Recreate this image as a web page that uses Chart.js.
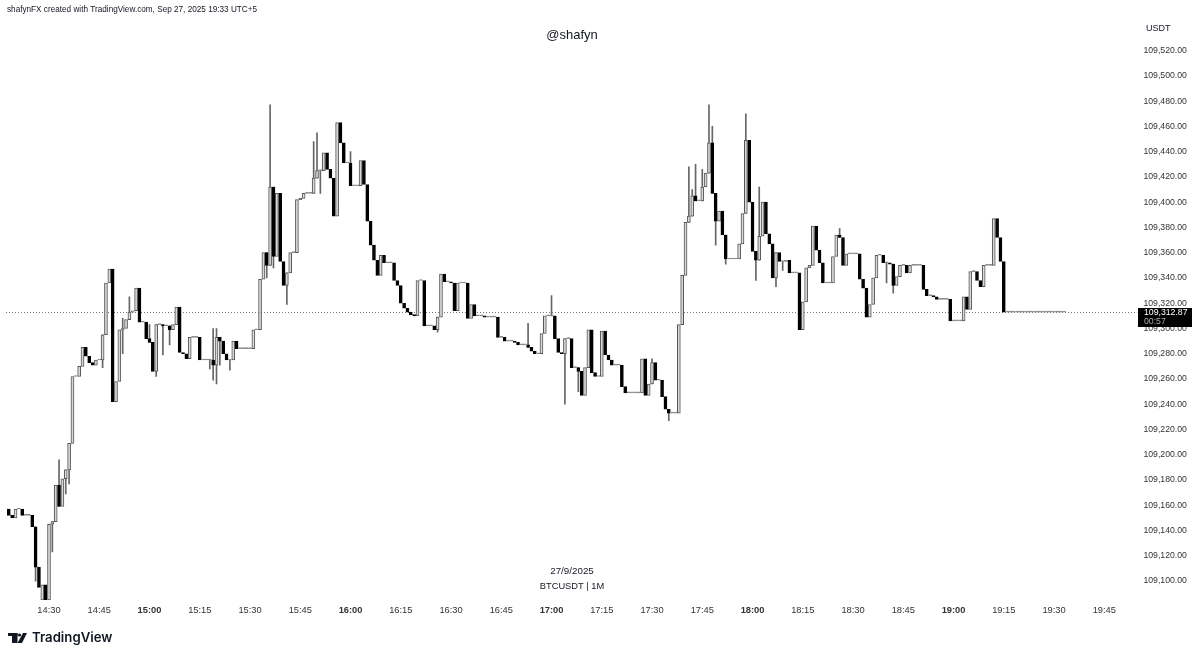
<!DOCTYPE html>
<html>
<head>
<meta charset="utf-8">
<style>html,body{margin:0;padding:0;background:#fff}canvas{display:block}</style>
<script src="https://cdn.jsdelivr.net/npm/chart.js@4"></script>
</head>
<body>
<canvas id="c" width="1200" height="658" style="width:1200px;height:658px"></canvas>
<script>
const firstOpen = 109157;
const closes = [
109152,109150,109157,109157,109152,109152,109152,109143,109111,109095,
109097,109085,109145,109147,109176,109159,109181,109188,109209,109262,
109262,109270,109285,109278,109273,109271,109275,109275,109295,109336,
109347,109242,109258,109299,109300,109307,109313,109314,109332,109305,
109305,109292,109289,109266,109303,109303,109302,109302,109299,109303,
109317,109281,109280,109276,109293,109293,109293,109275,109275,109275,
109275,109271,109293,109290,109280,109275,109275,109290,109284,109284,
109284,109284,109284,109299,109299,109339,109360,109350,109412,109357,
109407,109353,109334,109344,109360,109360,109402,109403,109407,109407,
109407,109419,109425,109425,109439,109426,109419,109389,109463,109447,
109431,109431,109413,109413,109413,109433,109414,109385,109366,109354,
109342,109358,109352,109352,109352,109338,109334,109320,109316,109313,
109311,109310,109338,109338,109302,109302,109302,109299,109309,109343,
109337,109337,109336,109314,109336,109336,109336,109308,109319,109310,
109310,109310,109309,109309,109309,109309,109293,109293,109290,109290,
109290,109289,109287,109287,109287,109285,109282,109280,109280,109296,
109310,109310,109310,109292,109281,109280,109292,109292,109269,109269,
109266,109247,109269,109299,109265,109262,109262,109298,109279,109275,
109271,109271,109271,109254,109249,109249,109249,109249,109249,109276,
109247,109256,109273,109259,109259,109246,109236,109233,109233,109233,
109303,109342,109384,109389,109405,109401,109401,109412,109423,109447,
109407,109385,109393,109374,109355,109355,109355,109355,109367,109391,
109449,109400,109361,109354,109373,109400,109375,109367,109340,109360,
109353,109353,109354,109344,109344,109344,109299,109321,109348,109350,
109381,109362,109352,109336,109336,109336,109357,109374,109372,109350,
109359,109359,109359,109359,109339,109332,109309,109319,109340,109358,
109358,109352,109352,109351,109334,109341,109350,109350,109344,109350,
109350,109350,109350,109331,109326,109326,109325,109323,109323,109323,
109323,109306,109306,109306,109306,109325,109315,109345,109345,109338,
109333,109350,109350,109350,109387,109372,109353,109313,109313,109313,
109313,109313,109313,109313,109313,109313,109313,109313,109313,109313,
109313,109313,109313,109313,109313,109312.87
];
const gapOpens = {10:109085};
const wickHighs = {15:109196,34:109308,36:109325,42:109303,61:109300,62:109300,78:109477,91:109448,92:109455,
  102:109440,155:109304,162:109326,192:109276,203:109428,204:109410,205:109430,207:109426,209:109477,
  210:109460,220:109470,224:109412,248:109379};
const wickLows = {8:109100,13:109123,17:109169,18:109177,28:109269,34:109280,44:109262,46:109279,48:109287,
  60:109268,61:109259,62:109256,63:109271,66:109267,77:109340,79:109348,83:109319,93:109407,128:109297,
  166:109240,170:109250,197:109227,211:109366,214:109351,223:109338,229:109333,231:109346,262:109336,264:109328};
const lastPrice = 109312.87;
const countdown = '00:57';
const startMinute = 14*60+17;
const slotCount = 338;
const timeLabels = [];
for (let m = 0; m < slotCount; m++) {
  const t = startMinute + m;
  timeLabels.push(String(Math.floor(t/60)).padStart(2,'0') + ':' + String(t%60).padStart(2,'0'));
}

const opens = closes.map((c,i)=> gapOpens[i] !== undefined ? gapOpens[i] : (i === 0 ? firstOpen : closes[i-1]));
const bodies = [null], wicks = [null], fills = ['#000'], lines = ['#000'];
closes.forEach((c,i)=>{
  const o = opens[i];
  bodies.push([o,c]);
  const hi = wickHighs[i], lo = wickLows[i];
  wicks.push(hi !== undefined || lo !== undefined
    ? [lo !== undefined ? lo : Math.min(o,c), hi !== undefined ? hi : Math.max(o,c)] : null);
  if (c === o || Math.abs(c-o) < 1) { fills.push('#8a8a8a'); lines.push('#8a8a8a'); }
  else if (c > o) { fills.push('#d8d8d8'); lines.push('#555'); }
  else { fills.push('#000'); lines.push('#000'); }
});

const FONT = '"Liberation Sans", Arial, sans-serif';
const overlay = {
  id:'overlay',
  beforeDatasetsDraw(chart){
    const g = chart.ctx, y = chart.scales.y.getPixelForValue(lastPrice);
    g.save(); g.strokeStyle='#777'; g.lineWidth=1; g.setLineDash([1,2]);
    g.beginPath(); g.moveTo(6,Math.round(y)+0.5); g.lineTo(chart.chartArea.right+3,Math.round(y)+0.5); g.stroke();
    g.restore();
  },
  afterDraw(chart){
    const g = chart.ctx;
    g.save();
    g.textBaseline='middle';
    g.fillStyle='#131722'; g.textAlign='left';
    g.font='8.2px '+FONT;
    g.fillText('shafynFX created with TradingView.com, Sep 27, 2025 19:33 UTC+5',7,10);
    g.font='9px '+FONT;
    g.fillText('USDT',1146,28.5);
    g.textAlign='center';
    g.font='13px '+FONT;
    g.fillText('@shafyn',572,35);
    g.font='9.8px '+FONT;
    g.fillText('27/9/2025',572,571);
    g.font='9.3px '+FONT;
    g.fillText('BTCUSDT | 1M',572,586);
    // price tag
    g.fillStyle='#000'; g.fillRect(1138,308,54,19);
    g.textAlign='left';
    g.fillStyle='#fff'; g.font='8.7px '+FONT; g.fillText('109,312.87',1144,313);
    g.fillStyle='#aaa'; g.fillText(countdown,1144,322);
    // logo
    g.fillStyle='#131722';
    g.fillRect(8,633,9.5,3); g.fillRect(12,633,5.5,10);
    g.beginPath(); g.arc(19.5,635,1.6,0,Math.PI*2); g.fill();
    g.beginPath(); g.moveTo(23,633); g.lineTo(27,633); g.lineTo(22,643); g.lineTo(17.5,643); g.closePath(); g.fill();
    g.font='600 13.2px Inter, '+FONT; g.fillText('TradingView',32,638.5);
    g.restore();
  }
};

new Chart(document.getElementById('c'),{
  type:'bar',
  data:{labels:timeLabels,datasets:[
    {label:'BTCUSDT',data:bodies,backgroundColor:fills,borderColor:lines,borderWidth:1,borderSkipped:false,barThickness:3,minBarLength:1,order:1,grouped:false},
    {label:'wick',data:wicks,backgroundColor:'#666',borderWidth:0,barThickness:1,order:2,grouped:false}
  ]},
  options:{
    responsive:false,animation:false,devicePixelRatio:1,
    layout:{padding:{left:5.45,top:27,right:0,bottom:0}},
    plugins:{legend:{display:false},tooltip:{enabled:false},title:{display:false}},
    scales:{
      x:{
        offset:false,
        grid:{display:false,drawTicks:false},border:{display:false},
        afterFit(s){s.height=58;},
        ticks:{
          autoSkip:false,maxRotation:0,minRotation:0,padding:5,color:'#333',
          callback(v){const l=timeLabels[v];return /:(00|15|30|45)$/.test(l)?l:'';},
          font(ctx){const l=timeLabels[ctx.tick?ctx.tick.value:0]||'';return {family:FONT,size:9.3,weight:l.endsWith(':00')?'bold':'normal'};}
        }
      },
      y:{
        position:'right',min:109085,max:109538.7,
        grid:{display:false,drawTicks:false},border:{display:false},
        afterFit(s){s.width=65.55;},
        ticks:{stepSize:20,includeBounds:false,padding:9,color:'#333',font:{family:FONT,size:8.7},
          callback(v){return v.toLocaleString('en-US',{minimumFractionDigits:2,maximumFractionDigits:2});}}
      }
    }
  },
  plugins:[overlay]
});
</script>
</body>
</html>
